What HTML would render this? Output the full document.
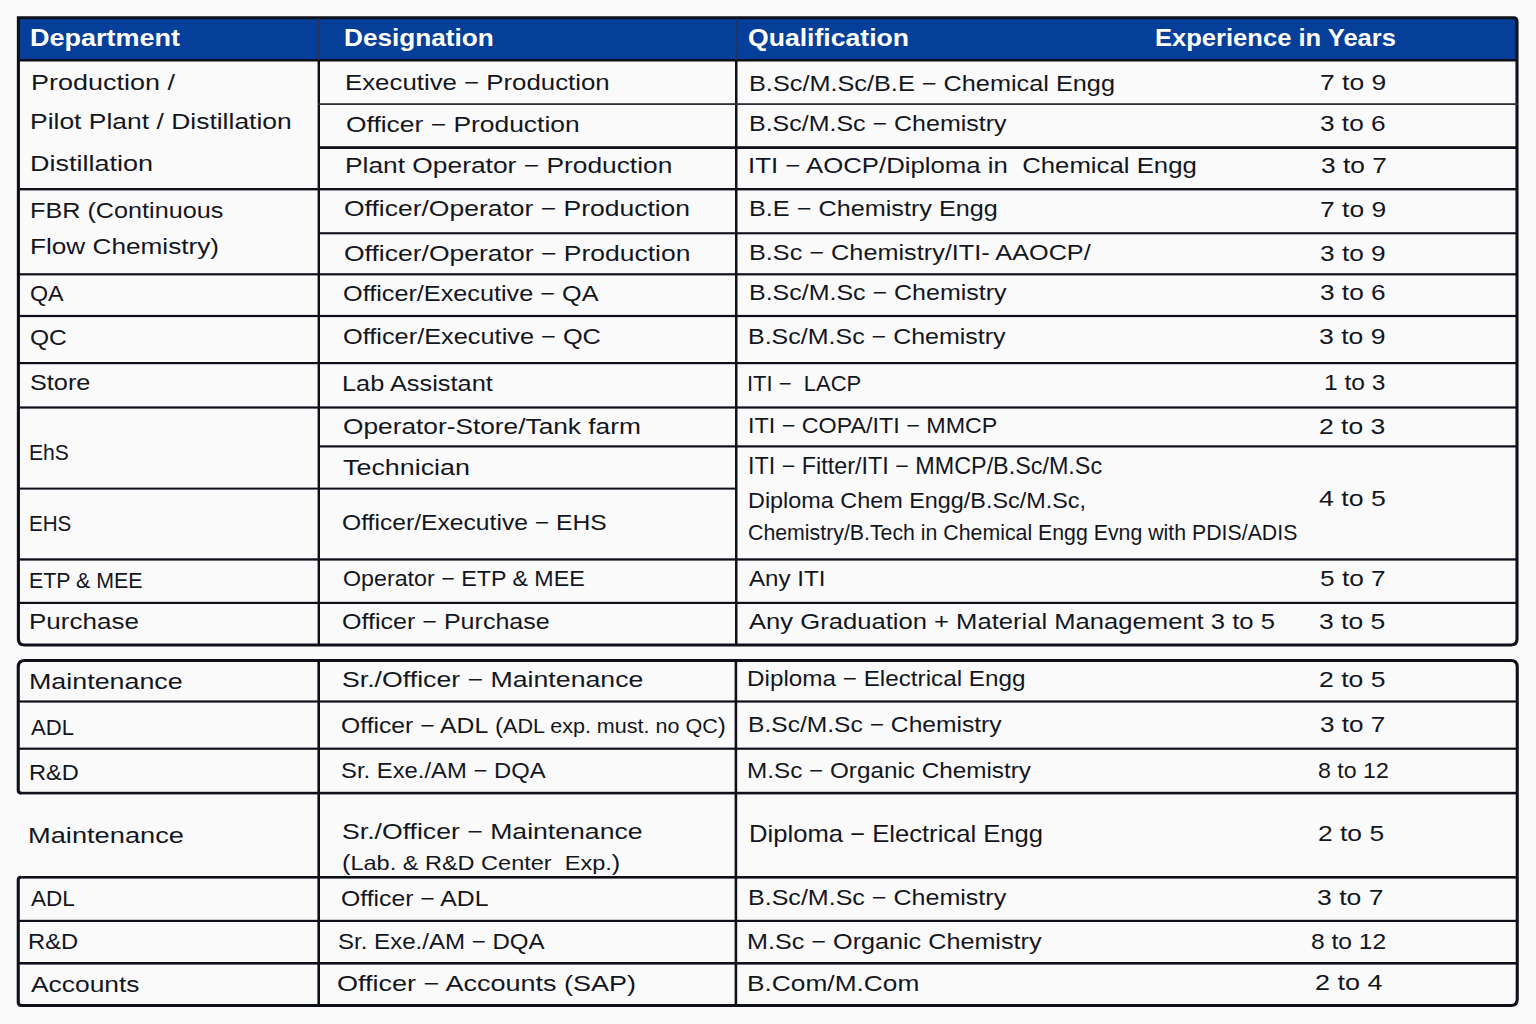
<!DOCTYPE html>
<html><head><meta charset="utf-8"><title>Vacancies</title>
<style>
html,body{margin:0;padding:0;}
body{width:1536px;height:1024px;overflow:hidden;background:#fafafb;position:relative;font-family:"Liberation Sans",sans-serif;}
svg{position:absolute;left:0;top:0;}
.t{position:absolute;white-space:pre;line-height:1;transform-origin:0 0;font-family:"Liberation Sans",sans-serif;}
</style></head><body>
<svg width="1536" height="1024" viewBox="0 0 1536 1024">
<path d="M19 18.6 H1513 Q1516.5 18.6 1516.5 22 V59.5 H19 Z" fill="#053f9a"/>
<path d="M18.4 17.75 H1513.5 Q1517.0 17.75 1517.0 21.5 V639 Q1517.0 645 1511.0 645 H24.4 Q18.4 645 18.4 639 Z" fill="none" stroke="#0f111a" stroke-width="3.1"/>
<rect x="17" y="59" width="1501.00" height="2.50" fill="#0f111a"/>
<rect x="317.6" y="60" width="2.40" height="586.00" fill="#0f111a"/>
<rect x="735.0" y="60" width="2.50" height="586.00" fill="#0f111a"/>
<rect x="318.0" y="18" width="1.10" height="42.00" fill="#2b3350"/>
<rect x="735.6" y="18" width="1.10" height="42.00" fill="#2b3350"/>
<rect x="318" y="103.2" width="1200.00" height="1.80" fill="#2c2f3a"/>
<rect x="318" y="146.2" width="1200.00" height="2.80" fill="#0f111a"/>
<rect x="17" y="188.0" width="1501.00" height="2.40" fill="#0f111a"/>
<rect x="318" y="232.2" width="1200.00" height="2.10" fill="#0f111a"/>
<rect x="17" y="273.2" width="1501.00" height="2.20" fill="#0f111a"/>
<rect x="17" y="314.9" width="1501.00" height="2.20" fill="#0f111a"/>
<rect x="17" y="362.0" width="1501.00" height="2.20" fill="#0f111a"/>
<rect x="17" y="406.4" width="1501.00" height="2.20" fill="#0f111a"/>
<rect x="318" y="445.3" width="1200.00" height="2.20" fill="#0f111a"/>
<rect x="17" y="487.6" width="720.00" height="2.00" fill="#0f111a"/>
<rect x="17" y="558.3" width="1501.00" height="2.30" fill="#0f111a"/>
<rect x="17" y="601.8" width="1501.00" height="2.20" fill="#0f111a"/>
<path d="M21 793.1 Q18.25 793.1 18.25 790.3 V667 Q18.25 660.5 24.75 660.5 H1511 Q1517.25 660.5 1517.25 667 V999 Q1517.25 1005.5 1511 1005.5 H21.5 Q18.25 1005.5 18.25 1002.2 V879.6 Q18.25 877.3 21 877.3" fill="none" stroke="#0f111a" stroke-width="3.1"/>
<rect x="317.4" y="660" width="2.60" height="346.00" fill="#0f111a"/>
<rect x="734.6" y="660" width="2.60" height="346.00" fill="#0f111a"/>
<rect x="17" y="700.4" width="1501.00" height="2.20" fill="#0f111a"/>
<rect x="17" y="747.6" width="1501.00" height="2.20" fill="#0f111a"/>
<rect x="20" y="791.8" width="1498.00" height="2.60" fill="#0f111a"/>
<rect x="20" y="876.0" width="1498.00" height="2.60" fill="#0f111a"/>
<rect x="17" y="919.8" width="1501.00" height="2.20" fill="#0f111a"/>
<rect x="17" y="962.0" width="1501.00" height="2.60" fill="#0f111a"/>
</svg>
<div class="t" style="left:30.20px;top:26.60px;font-size:23px;font-weight:bold;color:#ffffff;transform:scaleX(1.1739)">Department</div>
<div class="t" style="left:343.96px;top:26.60px;font-size:23px;font-weight:bold;color:#ffffff;transform:scaleX(1.1373)">Designation</div>
<div class="t" style="left:747.85px;top:26.60px;font-size:23px;font-weight:bold;color:#ffffff;transform:scaleX(1.1560)">Qualification</div>
<div class="t" style="left:1155.41px;top:26.60px;font-size:23px;font-weight:bold;color:#ffffff;transform:scaleX(1.1108)">Experience in Years</div>
<div class="t" style="left:30.61px;top:71.81px;font-size:22.5px;font-weight:normal;color:#14161d;transform:scaleX(1.1987)">Production /</div>
<div class="t" style="left:29.87px;top:110.75px;font-size:22.5px;font-weight:normal;color:#14161d;transform:scaleX(1.1759)">Pilot Plant / Distillation</div>
<div class="t" style="left:29.79px;top:153.25px;font-size:22.5px;font-weight:normal;color:#14161d;transform:scaleX(1.2000)">Distillation</div>
<div class="t" style="left:30.01px;top:199.50px;font-size:22.5px;font-weight:normal;color:#14161d;transform:scaleX(1.1203)">FBR (Continuous</div>
<div class="t" style="left:29.89px;top:235.75px;font-size:22.5px;font-weight:normal;color:#14161d;transform:scaleX(1.1634)">Flow Chemistry)</div>
<div class="t" style="left:30.48px;top:283.00px;font-size:22.5px;font-weight:normal;color:#14161d;transform:scaleX(1.0356)">QA</div>
<div class="t" style="left:30.08px;top:327.00px;font-size:22.5px;font-weight:normal;color:#14161d;transform:scaleX(1.0927)">QC</div>
<div class="t" style="left:29.70px;top:371.50px;font-size:22.5px;font-weight:normal;color:#14161d;transform:scaleX(1.1227)">Store</div>
<div class="t" style="left:28.88px;top:442.31px;font-size:22.5px;font-weight:normal;color:#14161d;transform:scaleX(0.9361)">EhS</div>
<div class="t" style="left:29.35px;top:512.81px;font-size:22.5px;font-weight:normal;color:#14161d;transform:scaleX(0.9156)">EHS</div>
<div class="t" style="left:28.80px;top:569.50px;font-size:22.5px;font-weight:normal;color:#14161d;transform:scaleX(0.9493)">ETP &amp; MEE</div>
<div class="t" style="left:29.05px;top:610.75px;font-size:22.5px;font-weight:normal;color:#14161d;transform:scaleX(1.1557)">Purchase</div>
<div class="t" style="left:28.93px;top:670.75px;font-size:22.5px;font-weight:normal;color:#14161d;transform:scaleX(1.1930)">Maintenance</div>
<div class="t" style="left:31.05px;top:716.50px;font-size:22.5px;font-weight:normal;color:#14161d;transform:scaleX(0.9815)">ADL</div>
<div class="t" style="left:29.41px;top:761.50px;font-size:22.5px;font-weight:normal;color:#14161d;transform:scaleX(1.0501)">R&amp;D</div>
<div class="t" style="left:27.79px;top:825.00px;font-size:22.5px;font-weight:normal;color:#14161d;transform:scaleX(1.2105)">Maintenance</div>
<div class="t" style="left:31.04px;top:887.50px;font-size:22.5px;font-weight:normal;color:#14161d;transform:scaleX(1.0034)">ADL</div>
<div class="t" style="left:28.40px;top:931.25px;font-size:22.5px;font-weight:normal;color:#14161d;transform:scaleX(1.0544)">R&amp;D</div>
<div class="t" style="left:30.51px;top:973.75px;font-size:22.5px;font-weight:normal;color:#14161d;transform:scaleX(1.1730)">Accounts</div>
<div class="t" style="left:345.02px;top:72.00px;font-size:22.5px;font-weight:normal;color:#14161d;transform:scaleX(1.1471)">Executive − Production</div>
<div class="t" style="left:345.89px;top:113.60px;font-size:22.5px;font-weight:normal;color:#14161d;transform:scaleX(1.1737)">Officer − Production</div>
<div class="t" style="left:344.70px;top:155.00px;font-size:22.5px;font-weight:normal;color:#14161d;transform:scaleX(1.1710)">Plant Operator − Production</div>
<div class="t" style="left:343.55px;top:198.41px;font-size:22.5px;font-weight:normal;color:#14161d;transform:scaleX(1.1767)">Officer/Operator − Production</div>
<div class="t" style="left:343.54px;top:243.00px;font-size:22.5px;font-weight:normal;color:#14161d;transform:scaleX(1.1781)">Officer/Operator − Production</div>
<div class="t" style="left:343.05px;top:282.60px;font-size:22.5px;font-weight:normal;color:#14161d;transform:scaleX(1.1214)">Officer/Executive − QA</div>
<div class="t" style="left:343.05px;top:326.21px;font-size:22.5px;font-weight:normal;color:#14161d;transform:scaleX(1.1260)">Officer/Executive − QC</div>
<div class="t" style="left:342.14px;top:372.71px;font-size:22.5px;font-weight:normal;color:#14161d;transform:scaleX(1.1271)">Lab Assistant</div>
<div class="t" style="left:343.00px;top:416.41px;font-size:22.5px;font-weight:normal;color:#14161d;transform:scaleX(1.1675)">Operator-Store/Tank farm</div>
<div class="t" style="left:342.69px;top:456.60px;font-size:22.5px;font-weight:normal;color:#14161d;transform:scaleX(1.1941)">Technician</div>
<div class="t" style="left:342.10px;top:512.10px;font-size:22.5px;font-weight:normal;color:#14161d;transform:scaleX(1.0960)">Officer/Executive − EHS</div>
<div class="t" style="left:342.51px;top:568.41px;font-size:22.5px;font-weight:normal;color:#14161d;transform:scaleX(1.0328)">Operator − ETP &amp; MEE</div>
<div class="t" style="left:342.36px;top:611.31px;font-size:22.5px;font-weight:normal;color:#14161d;transform:scaleX(1.1136)">Officer − Purchase</div>
<div class="t" style="left:342.11px;top:668.71px;font-size:22.5px;font-weight:normal;color:#14161d;transform:scaleX(1.1859)">Sr./Officer − Maintenance</div>
<div class="t" style="left:341.08px;top:715.21px;font-size:22.5px;font-weight:normal;color:#14161d;transform:scaleX(1.0979)">Officer − ADL</div>
<div class="t" style="left:495.38px;top:715.21px;font-size:22.5px;font-weight:normal;color:#14161d;transform:scaleX(1.0771)">(<span style="font-size:20px">ADL exp. must. no QC</span>)</div>
<div class="t" style="left:340.91px;top:760.31px;font-size:22.5px;font-weight:normal;color:#14161d;transform:scaleX(1.0590)">Sr. Exe./AM − DQA</div>
<div class="t" style="left:342.11px;top:821.10px;font-size:22.5px;font-weight:normal;color:#14161d;transform:scaleX(1.1829)">Sr./Officer − Maintenance</div>
<div class="t" style="left:341.77px;top:851.71px;font-size:22.5px;font-weight:normal;color:#14161d;transform:scaleX(1.1197)">(<span style="font-size:21px">Lab. &amp; R&amp;D Center&nbsp; Exp.</span>)</div>
<div class="t" style="left:341.07px;top:887.50px;font-size:22.5px;font-weight:normal;color:#14161d;transform:scaleX(1.1002)">Officer − ADL</div>
<div class="t" style="left:337.92px;top:931.00px;font-size:22.5px;font-weight:normal;color:#14161d;transform:scaleX(1.0697)">Sr. Exe./AM − DQA</div>
<div class="t" style="left:337.19px;top:972.91px;font-size:22.5px;font-weight:normal;color:#14161d;transform:scaleX(1.2009)">Officer − Accounts (SAP)</div>
<div class="t" style="left:749.00px;top:72.50px;font-size:22.5px;font-weight:normal;color:#14161d;transform:scaleX(1.1234)">B.Sc/M.Sc/B.E − Chemical Engg</div>
<div class="t" style="left:749.03px;top:113.25px;font-size:22.5px;font-weight:normal;color:#14161d;transform:scaleX(1.1103)">B.Sc/M.Sc − Chemistry</div>
<div class="t" style="left:748.11px;top:154.50px;font-size:22.5px;font-weight:normal;color:#14161d;transform:scaleX(1.1448)">ITI − AOCP/Diploma in&nbsp; Chemical Engg</div>
<div class="t" style="left:749.00px;top:198.25px;font-size:22.5px;font-weight:normal;color:#14161d;transform:scaleX(1.1212)">B.E − Chemistry Engg</div>
<div class="t" style="left:749.00px;top:242.00px;font-size:22.5px;font-weight:normal;color:#14161d;transform:scaleX(1.1225)">B.Sc − Chemistry/ITI- AAOCP/</div>
<div class="t" style="left:749.03px;top:281.50px;font-size:22.5px;font-weight:normal;color:#14161d;transform:scaleX(1.1103)">B.Sc/M.Sc − Chemistry</div>
<div class="t" style="left:748.18px;top:325.75px;font-size:22.5px;font-weight:normal;color:#14161d;transform:scaleX(1.1108)">B.Sc/M.Sc − Chemistry</div>
<div class="t" style="left:747.43px;top:372.50px;font-size:22.5px;font-weight:normal;color:#14161d;transform:scaleX(0.9773)">ITI −&nbsp; LACP</div>
<div class="t" style="left:748.26px;top:415.00px;font-size:22.5px;font-weight:normal;color:#14161d;transform:scaleX(1.0355)">ITI − COPA/ITI − MMCP</div>
<div class="t" style="left:748.18px;top:454.60px;font-size:23.2px;font-weight:normal;color:#14161d;transform:scaleX(1.0067)">ITI − Fitter/ITI − MMCP/B.Sc/M.Sc</div>
<div class="t" style="left:747.62px;top:490.00px;font-size:21.6px;font-weight:normal;color:#14161d;transform:scaleX(1.0832)">Diploma Chem Engg/B.Sc/M.Sc,</div>
<div class="t" style="left:748.33px;top:522.50px;font-size:21.3px;font-weight:normal;color:#14161d;transform:scaleX(1.0003)">Chemistry/B.Tech in Chemical Engg Evng with PDIS/ADIS</div>
<div class="t" style="left:748.96px;top:568.25px;font-size:22.5px;font-weight:normal;color:#14161d;transform:scaleX(1.0733)">Any ITI</div>
<div class="t" style="left:748.94px;top:610.75px;font-size:22.5px;font-weight:normal;color:#14161d;transform:scaleX(1.1380)">Any Graduation + Material Management 3 to 5</div>
<div class="t" style="left:747.29px;top:668.25px;font-size:22.5px;font-weight:normal;color:#14161d;transform:scaleX(1.0783)">Diploma − Electrical Engg</div>
<div class="t" style="left:748.06px;top:714.00px;font-size:22.5px;font-weight:normal;color:#14161d;transform:scaleX(1.0934)">B.Sc/M.Sc − Chemistry</div>
<div class="t" style="left:747.29px;top:760.00px;font-size:22.5px;font-weight:normal;color:#14161d;transform:scaleX(1.0787)">M.Sc − Organic Chemistry</div>
<div class="t" style="left:749.12px;top:821.81px;font-size:24px;font-weight:normal;color:#14161d;transform:scaleX(1.0674)">Diploma − Electrical Engg</div>
<div class="t" style="left:748.02px;top:887.00px;font-size:22.5px;font-weight:normal;color:#14161d;transform:scaleX(1.1131)">B.Sc/M.Sc − Chemistry</div>
<div class="t" style="left:747.16px;top:930.75px;font-size:22.5px;font-weight:normal;color:#14161d;transform:scaleX(1.1190)">M.Sc − Organic Chemistry</div>
<div class="t" style="left:747.02px;top:972.75px;font-size:22.5px;font-weight:normal;color:#14161d;transform:scaleX(1.1684)">B.Com/M.Com</div>
<div class="t" style="left:1320.32px;top:72.00px;font-size:22.5px;font-weight:normal;color:#14161d;transform:scaleX(1.1745)">7 to 9</div>
<div class="t" style="left:1319.75px;top:113.10px;font-size:22.5px;font-weight:normal;color:#14161d;transform:scaleX(1.1647)">3 to 6</div>
<div class="t" style="left:1320.68px;top:154.71px;font-size:22.5px;font-weight:normal;color:#14161d;transform:scaleX(1.1694)">3 to 7</div>
<div class="t" style="left:1320.32px;top:199.21px;font-size:22.5px;font-weight:normal;color:#14161d;transform:scaleX(1.1745)">7 to 9</div>
<div class="t" style="left:1319.73px;top:243.00px;font-size:22.5px;font-weight:normal;color:#14161d;transform:scaleX(1.1672)">3 to 9</div>
<div class="t" style="left:1319.75px;top:282.00px;font-size:22.5px;font-weight:normal;color:#14161d;transform:scaleX(1.1647)">3 to 6</div>
<div class="t" style="left:1319.36px;top:326.21px;font-size:22.5px;font-weight:normal;color:#14161d;transform:scaleX(1.1815)">3 to 9</div>
<div class="t" style="left:1324.49px;top:371.81px;font-size:22.5px;font-weight:normal;color:#14161d;transform:scaleX(1.0909)">1 to 3</div>
<div class="t" style="left:1319.15px;top:415.60px;font-size:22.5px;font-weight:normal;color:#14161d;transform:scaleX(1.1786)">2 to 3</div>
<div class="t" style="left:1319.10px;top:488.31px;font-size:22.5px;font-weight:normal;color:#14161d;transform:scaleX(1.1850)">4 to 5</div>
<div class="t" style="left:1320.01px;top:568.00px;font-size:22.5px;font-weight:normal;color:#14161d;transform:scaleX(1.1670)">5 to 7</div>
<div class="t" style="left:1319.36px;top:611.31px;font-size:22.5px;font-weight:normal;color:#14161d;transform:scaleX(1.1775)">3 to 5</div>
<div class="t" style="left:1319.14px;top:668.71px;font-size:22.5px;font-weight:normal;color:#14161d;transform:scaleX(1.1807)">2 to 5</div>
<div class="t" style="left:1320.08px;top:713.81px;font-size:22.5px;font-weight:normal;color:#14161d;transform:scaleX(1.1598)">3 to 7</div>
<div class="t" style="left:1317.62px;top:760.31px;font-size:22.5px;font-weight:normal;color:#14161d;transform:scaleX(1.0281)">8 to 12</div>
<div class="t" style="left:1318.15px;top:822.71px;font-size:22.5px;font-weight:normal;color:#14161d;transform:scaleX(1.1735)">2 to 5</div>
<div class="t" style="left:1316.70px;top:887.21px;font-size:22.5px;font-weight:normal;color:#14161d;transform:scaleX(1.1811)">3 to 7</div>
<div class="t" style="left:1311.15px;top:931.00px;font-size:22.5px;font-weight:normal;color:#14161d;transform:scaleX(1.0934)">8 to 12</div>
<div class="t" style="left:1315.35px;top:972.00px;font-size:22.5px;font-weight:normal;color:#14161d;transform:scaleX(1.1994)">2 to 4</div>
</body></html>
